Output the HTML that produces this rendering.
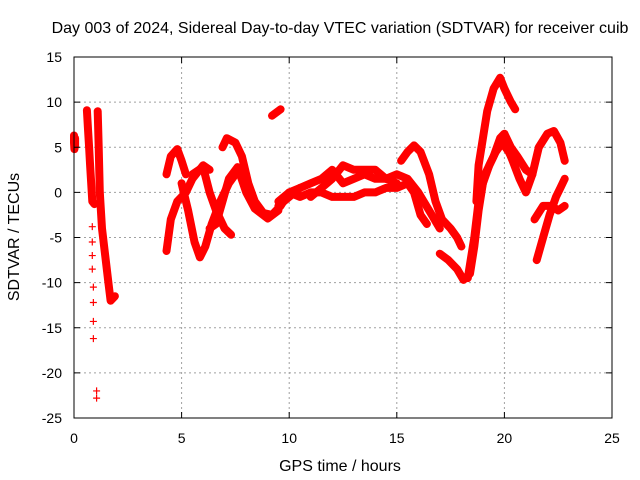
<!DOCTYPE html>
<html><head><meta charset="utf-8"><style>
body{margin:0;background:#fff}
svg{display:block;font-family:"Liberation Sans",sans-serif}
</style></head><body>
<svg id="chart" width="640" height="480" viewBox="0 0 640 480">
<text x="340" y="33" font-size="16" text-anchor="middle">Day 003 of 2024, Sidereal Day-to-day VTEC variation (SDTVAR) for receiver cuib</text>
<g id="grid"></g>
<g id="marks"></g>
<rect x="74" y="57" width="538" height="361" fill="none" stroke="#000" stroke-width="1"/>
<g id="ticks"></g>
<text x="340" y="471" font-size="16" text-anchor="middle">GPS time / hours</text>
<text transform="translate(19,237) rotate(-90)" font-size="16" text-anchor="middle">SDTVAR / TECUs</text>
</svg>
<script>
const xTicks=[0,5,10,15,20,25];
const yTicks=[15,10,5,0,-5,-10,-15,-20,-25];
const tracks=[
[[0,6.3],[0,5.5],[0.02,4.8],[0.05,5.2],[0.05,6]],
[[0.6,9.1],[0.65,7],[0.7,5],[0.75,3],[0.8,1],[0.85,-1],[0.95,-1.3]],
[[0.85,-3.8],[0.85,-5.5],[0.85,-7],[0.85,-8.5],[0.9,-10.5],[0.9,-12.2],[0.9,-14.3],[0.9,-16.2]],
[[1.05,-22],[1.05,-22.8]],
[[1.1,9],[1.15,5],[1.2,0],[1.3,-4],[1.45,-7],[1.6,-10],[1.7,-12],[1.9,-11.5]],
[[4.3,2],[4.5,4],[4.8,4.8],[5.0,3.5],[5.2,2]],
[[4.3,-6.5],[4.5,-3],[4.8,-1],[5.2,0],[5.5,1.5],[6.0,3],[6.3,2.5]],
[[5.0,1],[5.3,-2],[5.6,-5.5],[5.85,-7.2],[6.1,-6],[6.4,-3.5],[6.8,-1],[7.2,1],[7.5,2]],
[[6.9,5],[7.1,6],[7.5,5.5],[7.8,4],[8.1,1],[8.4,-1],[8.8,-2.3],[9.2,-2.5],[9.6,-1.5],[10,0],[10.5,0.5]],
[[6.3,-4],[6.6,-3.5],[6.9,-1],[7.2,1.5],[7.6,2.8],[8.0,0],[8.4,-1.8],[9.0,-2.9],[9.5,-2]],
[[5.5,2],[6.0,2.8],[6.3,0],[6.6,-2],[7.0,-4],[7.3,-4.7]],
[[9.5,-1.5],[10,-0.5],[10.5,0.5],[11,1],[11.5,1.5],[12,2.5],[12.5,1],[13,1.5],[13.5,2],[14,1.5],[14.5,1.5],[15,2],[15.5,1.5],[16,0],[16.5,-2],[17,-4]],
[[9.5,-1],[10,0],[10.5,-0.5],[11,0],[11.5,0],[12,-0.5],[12.5,-0.5],[13,-0.5],[13.5,0],[14,0],[14.5,0.5],[15,0.5],[15.5,1],[15.8,0],[16.1,-2.5],[16.4,-3.5]],
[[11,-0.5],[11.5,0.5],[12,1.5],[12.5,3],[13,2.5],[13.5,2.5],[14,2.5],[14.5,1.5],[15,1]],
[[15.2,3.5],[15.5,4.5],[15.8,5.2],[16.1,4.5],[16.5,2],[16.8,-1],[17.1,-3],[17.5,-4],[17.8,-5],[18.0,-6]],
[[17,-6.8],[17.4,-7.5],[17.8,-8.5],[18.1,-9.7],[18.4,-9],[18.6,-6],[18.8,-2],[19,1],[19.3,3],[19.6,4.5],[19.9,5.5],[20.2,4.5],[20.5,3]],
[[18.3,-9.5],[18.6,-5],[18.8,-1],[19.1,2],[19.5,4],[19.8,6],[20,6.5],[20.3,5],[20.6,4],[21,2.5],[21.3,2]],
[[18.7,-1],[18.8,3],[19,6],[19.2,9],[19.5,11.5],[19.8,12.7],[20.0,11.5],[20.3,10],[20.5,9.2]],
[[20.3,4],[20.7,1.5],[21,0],[21.3,2],[21.6,5],[22,6.5],[22.3,6.8],[22.6,5.5],[22.8,3.5]],
[[21.5,-7.5],[21.8,-5],[22.1,-2.5],[22.4,-0.5],[22.6,0.5],[22.8,1.5]],
[[21.4,-3],[21.8,-1.5],[22.2,-1.5],[22.5,-2],[22.8,-1.5]],
[[9.2,8.5],[9.6,9.2]]
];
const X0=74,X1=612,Y0=418,Y1=57;
function sx(t){return X0+(t-0)/(25-0)*(X1-X0);}
function sy(v){return Y0-(v+25)/(40)*(Y0-Y1);}
const NS="http://www.w3.org/2000/svg";
const grid=document.getElementById('grid'),ticks=document.getElementById('ticks'),marks=document.getElementById('marks');
function mk(tag,attrs,parent){const e=document.createElementNS(NS,tag);for(const k in attrs)e.setAttribute(k,attrs[k]);parent.appendChild(e);return e;}
xTicks.forEach(t=>{
 const x=sx(t);
 if(t>0&&t<25){const g=mk('line',{x1:x,x2:x,y1:Y1,y2:Y0,stroke:'#a0a0a0','stroke-dasharray':'2,3'},grid);
 
 }
 mk('line',{x1:x,x2:x,y1:Y0,y2:Y0-6,stroke:'#000'},ticks);
 mk('line',{x1:x,x2:x,y1:Y1,y2:Y1+6,stroke:'#000'},ticks);
 const l=mk('text',{x:x,y:443,'font-size':14,'text-anchor':'middle'},ticks);l.textContent=t;
 
 
});
yTicks.forEach(v=>{
 const y=sy(v);
 if(v<15&&v>-25){const g=mk('line',{x1:X0,x2:X1,y1:y,y2:y,stroke:'#a0a0a0','stroke-dasharray':'2,3'},grid);
 
 }
 mk('line',{x1:X0,x2:X0+6,y1:y,y2:y,stroke:'#000'},ticks);
 mk('line',{x1:X1,x2:X1-6,y1:y,y2:y,stroke:'#000'},ticks);
 const l=mk('text',{x:62,y:y+5,'font-size':14,'text-anchor':'end'},ticks);l.textContent=v;
 
 
});
tracks.forEach((tr,i)=>{
 const pts=tr.map(p=>sx(p[0]).toFixed(1)+','+sy(p[1]).toFixed(1)).join(' ');
 if(tr.length>1&&i!==2&&i!==3){
  const pl=mk('polyline',{points:pts,fill:'none',stroke:'#f00','stroke-width':8,'stroke-linejoin':'round','stroke-linecap':'round'},marks);
  
  
 }
 tr.forEach(p=>{
  const x=sx(p[0]),y=sy(p[1]);
  const m=mk('path',{d:`M${x-3.5},${y}h7M${x},${y-3.5}v7`,stroke:'#f00','stroke-width':1.2},marks);
  
  
 });
});
</script>
</body></html>
